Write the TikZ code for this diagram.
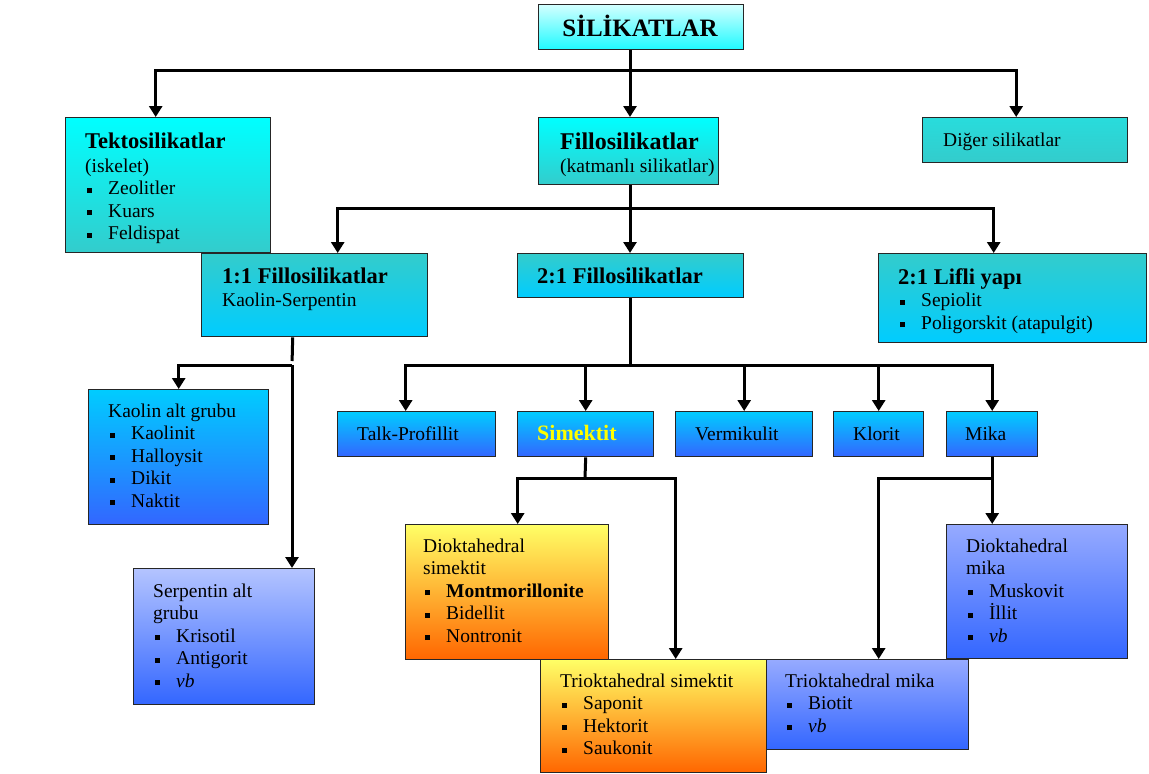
\documentclass[tikz,border=0pt]{standalone}
\usepackage{fontspec}
\setmainfont{Liberation Serif}
\usetikzlibrary{arrows.meta}

\definecolor{cyPale}{RGB}{210,255,255}
\definecolor{cyBright}{RGB}{30,250,255}
\definecolor{cyanA}{RGB}{0,255,255}
\definecolor{tealA}{RGB}{51,204,204}
\definecolor{skyA}{RGB}{0,204,255}
\definecolor{blueA}{RGB}{51,102,255}
\definecolor{lavA}{RGB}{180,196,255}
\definecolor{periA}{RGB}{150,170,255}
\definecolor{yelA}{RGB}{255,255,102}
\definecolor{oraA}{RGB}{255,102,0}
\definecolor{simYel}{RGB}{255,255,0}

% bullet item: small square, then the item text
\newcommand{\itm}[1]{\makebox[23pt][l]{\hspace*{2pt}\raisebox{2pt}{\rule{5pt}{5pt}}}#1}
% fixed top of first line, so the first baseline sits 18pt below the node top
\newcommand{\fst}{\rule{0pt}{18pt}}
% box: name, left, top, width, height, fill style
\newcommand{\bx}[6]{\node[box,#6,minimum width=#4pt,minimum height=#5pt] (#1) at (#2,#3) {};}

\begin{document}
\begin{tikzpicture}[x=1pt,y=-1pt,
  box/.style={rectangle,draw=black!85,line width=1.4pt,inner sep=0pt,anchor=north west},
  fTitle/.style={top color=cyPale,bottom color=cyBright},
  fCyan/.style={top color=cyanA,bottom color=tealA},
  fOther/.style={top color={rgb,255:red,40;green,220;blue,220},bottom color=tealA},
  fTeal/.style={top color=tealA,bottom color=skyA},
  fSky/.style={top color=skyA,bottom color=blueA},
  fLav/.style={top color=lavA,bottom color=blueA},
  fPeri/.style={top color=periA,bottom color=blueA},
  fWarm/.style={top color=yelA,bottom color=oraA},
  txt/.style={inner sep=0pt,anchor=north west,align=left,font=\fontsize{19.5}{22.5}\selectfont},
  lbl/.style={inner sep=0pt,anchor=base west,font=\fontsize{19.5}{22.5}\selectfont},
  hd/.style={font=\bfseries\fontsize{22.5}{22.5}\selectfont},
  ln/.style={line width=3pt,draw=black},
  arr/.style={ln,-{Triangle[width=13pt,length=11pt]}},
]
\useasboundingbox (0,0) rectangle (1149,774);

% ---- boxes ----
\bx{sil}{538}{4}{205}{45}{fTitle}
\bx{tekto}{65}{117}{205}{135}{fCyan}
\bx{fillo}{538}{117}{180}{67}{fCyan}
\bx{diger}{922}{117}{205}{45}{fOther}
\bx{one}{201}{253}{226}{83}{fTeal}
\bx{two}{517}{253}{226}{44}{fTeal}
\bx{lifli}{878}{253}{268}{89}{fTeal}
\bx{kaolin}{88}{389}{180}{135}{fSky}
\bx{serp}{133}{568}{181}{136}{fLav}
\bx{talk}{337}{411}{158}{45}{fSky}
\bx{sim}{517}{411}{136}{45}{fSky}
\bx{verm}{675}{411}{137}{45}{fSky}
\bx{klor}{833}{411}{90}{45}{fSky}
\bx{mika}{946}{411}{91}{45}{fSky}
\bx{dsim}{405}{524}{203}{135}{fWarm}
\bx{dmika}{946}{524}{181}{134}{fPeri}
\bx{tsim}{540}{659}{226}{113}{fWarm}
\bx{tmika}{766}{659}{202}{90}{fPeri}

% ---- texts ----
\node[inner sep=0pt,anchor=base,font=\bfseries\fontsize{25}{25}\selectfont] (sil-t) at (640,36) {SİLİKATLAR};

\node[txt] (tekto-t) at (85,130) {{\bfseries\fontsize{22.5}{22.5}\selectfont\fst Tektosilikatlar}\\[1.5pt]
  (iskelet)\\ \itm{Zeolitler}\\ \itm{Kuars}\\ \itm{Feldispat}};

\node[txt] (fillo-t) at (560,131) {{\bfseries\fontsize{24}{24}\selectfont\fst Fillosilikatlar}\\[0.5pt]
  (katmanlı silikatlar)};

\node[lbl] (diger-t) at (943,146) {Diğer silikatlar};

\node[txt] (one-t) at (222,265) {{\bfseries\fontsize{22.5}{22.5}\selectfont\fst 1:1 Fillosilikatlar}\\[0.5pt]
  Kaolin-Serpentin};

\node[lbl,hd] (two-t) at (537,283) {2:1 Fillosilikatlar};

\node[txt] (lifli-t) at (898,266) {{\bfseries\fontsize{22.5}{22.5}\selectfont\fst 2:1 Lifli yapı}\\
  \itm{Sepiolit}\\ \itm{Poligorskit (atapulgit)}};

\node[txt] (kaolin-t) at (108,399) {\fst Kaolin alt grubu\\ \itm{Kaolinit}\\ \itm{Halloysit}\\
  \itm{Dikit}\\ \itm{Naktit}};

\node[txt] (serp-t) at (153,579) {\fst Serpentin alt\\ grubu\\ \itm{Krisotil}\\ \itm{Antigorit}\\
  \itm{\textit{vb}}};

\node[lbl] (talk-t) at (357,440) {Talk-Profillit};
\node[lbl,font=\bfseries\fontsize{22}{22}\selectfont,text=simYel] (sim-t) at (537,440) {Simektit};
\node[lbl] (verm-t) at (695,440) {Vermikulit};
\node[lbl] (klor-t) at (853,440) {Klorit};
\node[lbl] (mika-t) at (965,440) {Mika};

\node[txt] (dsim-t) at (423,534) {\fst Dioktahedral\\ simektit\\ \itm{\textbf{Montmorillonite}}\\
  \itm{Bidellit}\\ \itm{Nontronit}};

\node[txt] (dmika-t) at (966,534) {\fst Dioktahedral\\ mika\\ \itm{Muskovit}\\ \itm{İllit}\\
  \itm{\textit{vb}}};

\node[txt] (tsim-t) at (560,669) {\fst Trioktahedral simektit\\ \itm{Saponit}\\ \itm{Hektorit}\\
  \itm{Saukonit}};

\node[txt] (tmika-t) at (785,669) {\fst Trioktahedral mika\\ \itm{Biotit}\\ \itm{\textit{vb}}};

% ---- connectors ----
\coordinate (j0) at (630,70);
\coordinate (j1) at (630,208);
\coordinate (j3) at (630,365);
\coordinate (j2) at (292,365);
\coordinate (j4) at (585,478);

\draw[ln] (sil.south -| j0) -- (j0);
\draw[arr] (j0) -| ([xshift=-12.5pt]tekto.north);
\draw[arr] (j0) -- (j0 |- fillo.north);
\draw[arr] (j0) -| ([xshift=-9pt]diger.north);

\draw[ln] (fillo.south -| j1) -- (j1);
\draw[arr] (j1) -| ([xshift=23pt]one.north);
\draw[arr] (j1) -- (j1 |- two.north);
\draw[arr] (j1) -| ([xshift=-19pt]lifli.north);

\draw[ln,shorten >=4pt] ([xshift=-22pt]one.south) -- (j2);
\draw[arr] (j2) -| (kaolin.north);
\draw[arr] (j2) -- (j2 |- serp.north);

\draw[ln] (two.south -| j3) -- (j3);
\draw[arr] (j3) -| ([xshift=-11pt]talk.north);
\draw[arr] (j3) -| (sim.north);
\draw[arr] (j3) -| (verm.north);
\draw[arr] (j3) -| (klor.north);
\draw[arr] (j3) -| (mika.north);

\draw[ln] (sim.south) -- (j4);
\draw[arr] (j4) -| ([xshift=10.5pt]dsim.north);
\draw[arr] (j4) -| ([xshift=22pt]tsim.north);

\coordinate (j5) at (mika.south |- j4);
\draw[ln] (mika.south) -- (j5);
\draw[arr] (j5) -- (j5 |- dmika.north);
\draw[arr] (j5) -| ([xshift=11pt]tmika.north);
\end{tikzpicture}
\end{document}
